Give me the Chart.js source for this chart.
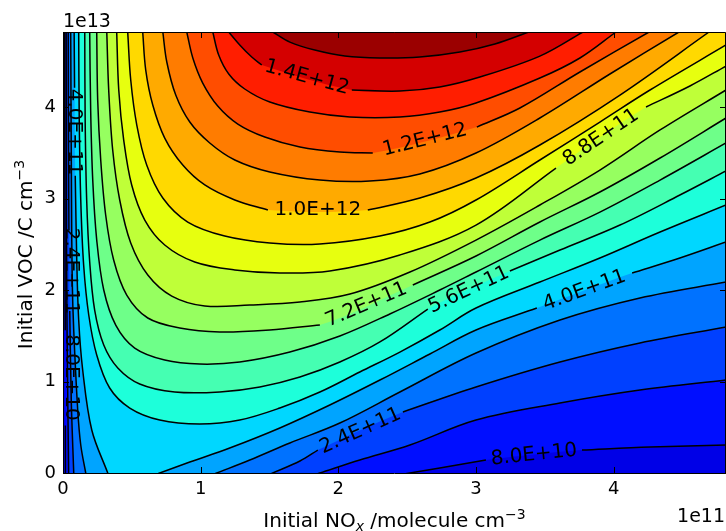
<!DOCTYPE html>
<html>
<head>
<meta charset="utf-8">
<title>O3 isopleths</title>
<script src="https://cdn.jsdelivr.net/npm/chart.js@4.4.1/dist/chart.umd.min.js"></script>
<style>
  html, body { margin: 0; padding: 0; background: #fff; }
  canvas { display: block; }
</style>
</head>
<body>
<canvas id="isopleth" width="726" height="531"></canvas>
<script>
// contour levels of the O3 field, molecule cm-3
const levels = [0.8e11, 1.6e11, 2.4e11, 3.2e11, 4.0e11, 4.8e11, 5.6e11, 6.4e11, 7.2e11,
                8.0e11, 8.8e11, 9.6e11, 1.04e12, 1.12e12, 1.2e12, 1.28e12, 1.36e12, 1.44e12];

const xTicks = [0, 1, 2, 3, 4];   // NOx, units of 1e11
const yTicks = [0, 1, 2, 3, 4];   // VOC, units of 1e13
const X_MAX = 4.816;
const Y_MAX = 4.82;

// contour paths [NOx, VOC]; null marks the gap left for an inline label.
// the low levels split into a piece along the NOx = 0 edge and a piece in the low-VOC corner
const c1Left = [[0.012, 4.82], [0.013, 3.53], [0.015, 2.33], [0.016, 1.56], null, [0.017, 0.52], [0.018, 0]];
const c1Right = [[2.52, 0], [2.737, 0.055], [3.072, 0.142], null, [3.77, 0.251], [4.264, 0.284], [4.816, 0.306]];
const c2Left = [[0.023, 4.82], [0.025, 2.98], [0.027, 2.11], [0.031, 1.34], [0.041, 0]];
const c2Right = [[1.866, 0], [2.156, 0.142], [2.52, 0.306], [3.0, 0.579], [3.61, 0.765], [4.191, 0.907], [4.816, 1.016]];
const c3Left = [[0.038, 4.82], [0.04, 3.64], [0.043, 2.65], null, [0.049, 1.77], [0.06, 0.8], [0.078, 0]];
const c3Right = [[1.524, 0], [1.721, 0.131], [1.851, 0.251], null, [2.469, 0.667], [3.0, 0.94], [3.61, 1.213], [4.191, 1.421], [4.816, 1.596]];
const c4Left = [[0.056, 4.82], [0.062, 2.98], [0.067, 2.11], [0.078, 1.56], [0.107, 0.689], [0.129, 0.306], [0.165, 0]];
const c4Right = [[1.117, 0], [1.357, 0.142], [1.648, 0.328], [2.011, 0.546], [2.447, 0.885], [3.0, 1.311], [3.61, 1.672], [4.191, 1.913], [4.816, 2.087]];
const c5Left = [[0.081, 4.82], [0.084, 4.21], null, [0.089, 3.25], [0.1, 2.328], [0.114, 1.672], [0.143, 1.126], [0.209, 0.47], [0.325, 0]];
const c5Right = [[0.703, 0], [0.921, 0.12], [1.211, 0.273], [1.575, 0.492], [1.938, 0.743], [2.302, 1.016], [2.665, 1.301], [3.0, 1.563], [3.442, 1.803], null, [4.134, 2.186], [4.481, 2.35], [4.816, 2.525]];
const c6 = [[0.114, 4.82], [0.118, 3.858], [0.129, 2.984], [0.15, 2.273], [0.187, 1.727], [0.245, 1.29], [0.339, 0.929], [0.485, 0.71], [0.703, 0.579], [0.993, 0.536], [1.284, 0.579], [1.575, 0.71], [1.866, 0.885], [2.156, 1.104], [2.447, 1.322], [2.737, 1.563], [3.0, 1.803], [3.464, 2.087], [3.9, 2.35], [4.337, 2.634], [4.816, 2.929]];
const c7 = [[0.158, 4.82], [0.161, 3.858], [0.172, 2.984], [0.194, 2.306], [0.23, 1.781], [0.296, 1.399], [0.398, 1.148], [0.557, 0.973], [0.812, 0.885], [1.139, 0.885], [1.43, 0.94], [1.721, 1.049], [2.011, 1.213], [2.302, 1.432], [2.65, 1.792], null, [3.246, 2.208], [3.61, 2.437], [4.046, 2.71], [4.481, 3.038], [4.816, 3.301]];
const c8 = [[0.194, 4.82], [0.201, 3.967], [0.216, 3.202], [0.245, 2.546], [0.296, 2.0], [0.383, 1.617], [0.521, 1.366], [0.739, 1.235], [0.993, 1.191], [1.284, 1.213], [1.648, 1.322], [2.011, 1.497], [2.374, 1.738], [2.737, 2.0], [3.0, 2.197], [3.464, 2.546], [3.9, 2.852], [4.337, 3.202], [4.816, 3.607]];
const c9 = [[0.245, 4.82], [0.252, 4.077], [0.274, 3.421], [0.31, 2.82], [0.368, 2.328], [0.463, 1.945], [0.616, 1.694], [0.848, 1.585], [1.139, 1.541], [1.502, 1.563], [1.866, 1.617], null, [2.541, 2.055], [3.0, 2.372], [3.464, 2.743], [3.9, 3.071], [4.337, 3.443], [4.816, 3.88]];
const c10 = [[0.318, 4.82], [0.332, 4.186], [0.361, 3.53], [0.412, 2.984], [0.492, 2.514], [0.616, 2.164], [0.79, 1.934], [1.03, 1.825], [1.357, 1.836], [1.721, 1.869], [2.084, 1.956], [2.52, 2.197], [3.0, 2.546], [3.464, 2.929], [3.9, 3.311], [4.337, 3.749], [4.816, 4.186]];
const c11 = [[0.39, 4.82], [0.405, 4.186], [0.441, 3.639], [0.499, 3.148], [0.594, 2.765], [0.739, 2.492], [0.957, 2.306], [1.248, 2.219], [1.575, 2.186], [1.938, 2.208], [2.447, 2.383], [3.0, 2.71], [3.581, 3.333], null, [4.235, 4.0], [4.554, 4.23], [4.816, 4.448]];
const c12 = [[0.47, 4.82], [0.492, 4.295], [0.536, 3.803], [0.608, 3.366], [0.725, 3.005], [0.906, 2.743], [1.175, 2.59], [1.502, 2.514], [1.866, 2.503], [2.302, 2.59], [2.665, 2.743], [3.0, 2.984], [3.464, 3.421], [3.9, 3.836], [4.264, 4.186], [4.816, 4.678]];
const c13 = [[0.579, 4.82], [0.601, 4.404], [0.652, 4.022], [0.739, 3.661], [0.87, 3.366], [1.03, 3.148], [1.248, 2.984], [1.488, 2.874], null, [2.214, 2.874], [2.592, 3.005], [3.0, 3.224], [3.464, 3.585], [4.046, 4.131], [4.693, 4.82]];
const c14 = [[0.725, 4.82], [0.754, 4.492], [0.819, 4.131], [0.921, 3.836], [1.066, 3.607], [1.248, 3.421], [1.502, 3.29], [1.866, 3.202], [2.229, 3.191], [2.592, 3.268], [3.0, 3.497], [3.464, 3.88], [3.973, 4.361], [4.474, 4.82]];
const c15 = [[0.899, 4.82], [0.943, 4.536], [1.015, 4.262], [1.124, 4.011], [1.27, 3.814], [1.466, 3.672], [1.721, 3.563], [2.011, 3.508], [2.25, 3.497], null, [3.006, 3.781], [3.319, 3.989], [3.755, 4.383], [4.257, 4.82]];
const c16 = [[1.088, 4.82], [1.131, 4.568], [1.204, 4.361], [1.32, 4.197], [1.502, 4.055], [1.793, 3.945], [2.084, 3.891], [2.447, 3.891], [2.737, 3.945], [3.0, 4.044], [3.464, 4.317], [3.755, 4.536], [4.017, 4.82]];
const c17 = [[1.204, 4.82], [1.284, 4.678], [1.371, 4.546], [1.444, 4.459], null, [2.098, 4.186], [2.447, 4.175], [2.737, 4.219], [3.028, 4.328], [3.464, 4.557], [3.777, 4.82]];
const c18 = [[1.524, 4.82], [1.648, 4.71], [1.829, 4.623], [2.047, 4.557], [2.302, 4.536], [2.592, 4.546], [2.883, 4.601], [3.137, 4.689], [3.384, 4.82]];

const contourPieces = [
  [c1Left, c1Right], [c2Left, c2Right], [c3Left, c3Right], [c4Left, c4Right], [c5Left, c5Right],
  [c6], [c7], [c8], [c9], [c10], [c11], [c12], [c13], [c14], [c15], [c16], [c17], [c18]
];

// inline labels: [level index, NOx, VOC, rotation in degrees]
const labelSpots = [
  [0, 0.056, 1.044, 90], [0, 3.421, 0.197, -6],
  [2, 0.063, 2.208, 90], [2, 2.16, 0.459, -24],
  [4, 0.085, 3.727, 90], [4, 3.788, 1.995, -20],
  [6, 2.948, 2.0, -25], [8, 2.203, 1.836, -23], [10, 3.908, 3.667, -34],
  [12, 1.851, 2.874, 0], [14, 2.629, 3.639, -14], [16, 1.771, 4.322, 15.5]
];

// jet colour map, one colour per band between levels
const jetR = [[0, 0], [0.35, 0], [0.66, 1], [0.89, 1], [1, 0.5]];
const jetG = [[0, 0], [0.125, 0], [0.375, 1], [0.64, 1], [0.91, 0], [1, 0]];
const jetB = [[0, 0.5], [0.11, 1], [0.34, 1], [0.65, 0], [1, 0]];

function channel(anchors, t) {
  for (let i = 1; i < anchors.length; i++) {
    const [t0, v0] = anchors[i - 1];
    const [t1, v1] = anchors[i];
    if (t <= t1) return v0 + (v1 - v0) * (t - t0) / (t1 - t0);
  }
  return anchors[anchors.length - 1][1];
}

function bandColor(i) {
  const t = 0.089 + 0.0493 * i;
  const c = [jetR, jetG, jetB].map(a => Math.round(255 * channel(a, t)));
  return `rgb(${c[0]},${c[1]},${c[2]})`;
}

function levelText(v) {
  return v.toExponential(1).toUpperCase();
}

// carry an end point on past the frame along the direction the contour arrives in
function outward(p, q) {
  return [2 * p[0] - q[0], 2 * p[1] - q[1]];
}

function extendPiece(piece) {
  const n = piece.length;
  return [outward(piece[0], piece[1]), ...piece, outward(piece[n - 1], piece[n - 2])];
}

// outline of the area above a level, closed round the outside of the frame
const OUT = 0.4;
function regionPolygon(pieces) {
  const pts = [];
  pieces.forEach(piece => extendPiece(piece.filter(p => p)).forEach(p => pts.push(p)));
  if (pts[pts.length - 1][1] < Y_MAX) pts.push([X_MAX + OUT, Y_MAX + OUT]);
  pts.push(pts[0]);
  return pts;
}

const toXY = p => (p ? {x: p[0], y: p[1]} : {x: null, y: null});

const datasets = [];
contourPieces.forEach((pieces, k) => {
  datasets.push({
    data: regionPolygon(pieces).map(toXY),
    fill: 'shape',
    backgroundColor: bandColor(k + 1),
    borderColor: 'rgba(0,0,0,0)',
    borderWidth: 0,
    order: 100 - k
  });
  pieces.forEach(piece => {
    datasets.push({
      data: extendPiece(piece).map(toXY),
      fill: false,
      borderColor: '#000',
      borderWidth: 1.5,
      order: 0
    });
  });
});

const frame = {
  id: 'frame',
  beforeDatasetsDraw(chart) {
    const {ctx, chartArea: a} = chart;
    ctx.save();
    ctx.fillStyle = bandColor(0);
    ctx.fillRect(a.left, a.top, a.right - a.left, a.bottom - a.top);
    ctx.restore();
  },
  afterDatasetsDraw(chart) {
    const {ctx, chartArea: a, scales} = chart;
    ctx.save();
    ctx.strokeStyle = '#000';
    ctx.lineWidth = 1;
    ctx.beginPath();
    ctx.moveTo(a.left + 0.5, a.top + 0.5);
    ctx.lineTo(a.right - 0.5, a.top + 0.5);
    ctx.lineTo(a.right - 0.5, a.bottom + 0.5);
    ctx.lineTo(a.left + 0.5, a.bottom + 0.5);
    ctx.closePath();
    const len = 6;
    scales.x.ticks.forEach(t => {
      const px = Math.round(scales.x.getPixelForValue(t.value)) + 0.5;
      ctx.moveTo(px, a.top);
      ctx.lineTo(px, a.top + len);
      ctx.moveTo(px, a.bottom);
      ctx.lineTo(px, a.bottom - len);
    });
    scales.y.ticks.forEach(t => {
      const py = Math.round(scales.y.getPixelForValue(t.value)) + 0.5;
      ctx.moveTo(a.left, py);
      ctx.lineTo(a.left + len, py);
      ctx.moveTo(a.right, py);
      ctx.lineTo(a.right - len, py);
    });
    ctx.stroke();

    // contour labels
    ctx.fillStyle = '#000';
    ctx.font = '20px "DejaVu Sans"';
    ctx.textAlign = 'center';
    ctx.textBaseline = 'middle';
    labelSpots.forEach(([k, x, y, angle]) => {
      ctx.save();
      ctx.translate(scales.x.getPixelForValue(x), scales.y.getPixelForValue(y));
      ctx.rotate(angle * Math.PI / 180);
      ctx.fillText(levelText(levels[k]), 0, 0);
      ctx.restore();
    });
    ctx.restore();
  }
};

// text runs with sub/superscripts, centred on (x, y) baseline
function drawRuns(ctx, runs, x, y) {
  const widths = runs.map(r => { ctx.font = r.font; return ctx.measureText(r.text).width; });
  let cx = x - widths.reduce((s, w) => s + w, 0) / 2;
  runs.forEach((r, i) => {
    ctx.font = r.font;
    ctx.fillText(r.text, cx, y + (r.dy || 0));
    cx += widths[i];
  });
}

const axisText = {
  id: 'axisText',
  afterDraw(chart) {
    const {ctx, chartArea: a} = chart;
    const big = '20px "DejaVu Sans"';
    const small = '14px "DejaVu Sans"';
    ctx.save();
    ctx.fillStyle = '#000';
    ctx.textAlign = 'left';
    ctx.textBaseline = 'alphabetic';
    drawRuns(ctx, [
      {text: 'Initial NO', font: big},
      {text: 'x', font: 'italic ' + small, dy: 4},
      {text: ' /molecule cm', font: big},
      {text: '\u22123', font: small, dy: -8}
    ], (a.left + a.right) / 2, 527);

    ctx.save();
    ctx.translate(32, (a.top + a.bottom) / 2 + 2);
    ctx.rotate(-Math.PI / 2);
    drawRuns(ctx, [
      {text: 'Initial VOC /C cm', font: big},
      {text: '\u22123', font: small, dy: -8}
    ], 0, 0);
    ctx.restore();

    ctx.font = '19px "DejaVu Sans"';
    ctx.fillText('1e13', a.left, 27);
    ctx.textAlign = 'right';
    ctx.fillText('1e11', a.right - 1, 522);
    ctx.restore();
  }
};

new Chart(document.getElementById('isopleth'), {
  type: 'line',
  data: {datasets},
  options: {
    responsive: false,
    animation: false,
    events: [],
    layout: {padding: {top: 32, right: 0, left: 0, bottom: 0}},
    elements: {
      point: {radius: 0},
      line: {tension: 0.35, capBezierPoints: false, spanGaps: false}
    },
    plugins: {legend: {display: false}, tooltip: {enabled: false}},
    scales: {
      x: {
        type: 'linear',
        min: 0,
        max: X_MAX,
        afterBuildTicks: s => { s.ticks = xTicks.map(v => ({value: v})); },
        afterFit: s => { s.height = 58; },
        grid: {display: false, drawTicks: false},
        border: {display: false},
        ticks: {color: '#000', padding: 6, maxRotation: 0, font: {family: 'DejaVu Sans', size: 18}}
      },
      y: {
        type: 'linear',
        min: 0,
        max: Y_MAX,
        afterBuildTicks: s => { s.ticks = yTicks.map(v => ({value: v})); },
        afterFit: s => { s.width = 63; },
        grid: {display: false, drawTicks: false},
        border: {display: false},
        ticks: {color: '#000', padding: 7, font: {family: 'DejaVu Sans', size: 18}}
      }
    }
  },
  plugins: [frame, axisText]
});
</script>
</body>
</html>
